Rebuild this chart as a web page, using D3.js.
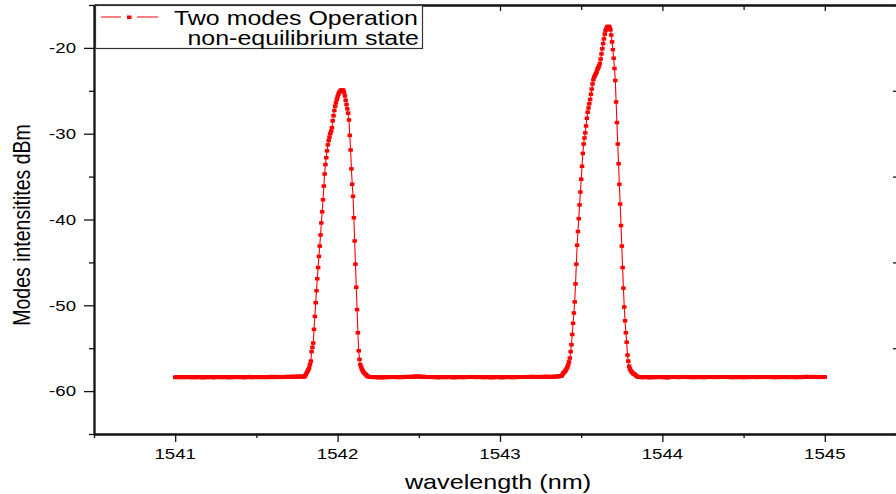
<!DOCTYPE html>
<html>
<head>
<meta charset="utf-8">
<script src="https://cdn.jsdelivr.net/npm/d3@7"></script>
<style>
  html, body { margin: 0; padding: 0; background: #fff; }
  svg { display: block; }
</style>
</head>
<body>
<script>
// Optical spectrum scan: uniform wavelength grid
const scanStartNm = 1541;
const scanStepNm = 0.005;

// Noise floor, 1541.000 .. 1541.790 nm
const floorLeft = [
  -58.38,-58.41,-58.36,-58.33,-58.39,-58.42,-58.37,-58.35,-58.40,-58.38,
  -58.34,-58.37,-58.42,-58.39,-58.36,-58.33,-58.38,-58.41,-58.37,-58.35,
  -58.39,-58.43,-58.38,-58.34,-58.36,-58.40,-58.42,-58.37,-58.33,-58.36,
  -58.41,-58.38,-58.35,-58.39,-58.44,-58.40,-58.36,-58.34,-58.38,-58.42,
  -58.39,-58.35,-58.33,-58.37,-58.41,-58.38,-58.36,-58.40,-58.43,-58.39,
  -58.35,-58.32,-58.36,-58.40,-58.37,-58.34,-58.38,-58.42,-58.39,-58.36,
  -58.33,-58.37,-58.41,-58.38,-58.35,-58.39,-58.43,-58.40,-58.36,-58.34,
  -58.38,-58.42,-58.39,-58.35,-58.32,-58.36,-58.40,-58.37,-58.34,-58.38,
  -58.41,-58.37,-58.33,-58.36,-58.40,-58.43,-58.39,-58.35,-58.37,-58.41,
  -58.38,-58.34,-58.31,-58.35,-58.39,-58.42,-58.38,-58.35,-58.33,-58.37,
  -58.40,-58.36,-58.33,-58.37,-58.41,-58.38,-58.34,-58.32,-58.36,-58.39,
  -58.42,-58.38,-58.35,-58.33,-58.37,-58.40,-58.36,-58.33,-58.30,-58.34,
  -58.38,-58.41,-58.37,-58.34,-58.31,-58.35,-58.39,-58.36,-58.33,-58.37,
  -58.40,-58.36,-58.32,-58.35,-58.38,-58.34,-58.31,-58.33,-58.36,-58.32,
  -58.29,-58.33,-58.36,-58.32,-58.30,-58.34,-58.31,-58.28,-58.32,-58.35,
  -58.31,-58.28,-58.30,-58.33,-58.29,-58.27,-58.31,-58.34,-58.30
];

// First lasing mode, 1541.795 .. 1542.185 nm
const modeShort = [
  -58.35,-58.20,-58.05,-57.85,-57.70,-57.50,-57.30,-56.90,-56.50,-55.40,
  -54.90,-54.40,-52.80,-51.30,-49.70,-48.30,-46.90,-45.60,-44.30,-43.10,
  -41.80,-40.40,-39.10,-37.70,-36.10,-34.70,-33.60,-32.80,-32.00,-31.30,
  -30.80,-30.40,-30.00,-29.70,-29.30,-28.50,-27.90,-27.30,-26.80,-26.40,
  -26.00,-25.70,-25.40,-25.20,-25.05,-24.95,-24.90,-24.90,-24.95,-25.20,
  -25.60,-26.10,-26.60,-27.10,-27.60,-28.40,-30.20,-31.90,-34.10,-35.90,
  -37.30,-39.80,-42.50,-45.20,-47.90,-50.50,-53.20,-55.30,-56.30,-56.90,
  -57.20,-57.45,-57.65,-57.80,-57.90,-58.00,-58.10,-58.20,-58.30
];

// Noise floor between the modes, 1542.190 .. 1543.375 nm
const floorMiddle = [
  -58.30,-58.33,-58.36,-58.34,-58.37,-58.40,-58.38,-58.35,-58.39,-58.42,
  -58.39,-58.36,-58.40,-58.43,-58.40,-58.37,-58.41,-58.44,-58.40,-58.37,
  -58.39,-58.42,-58.38,-58.35,-58.38,-58.41,-58.37,-58.34,-58.36,-58.39,
  -58.36,-58.33,-58.37,-58.40,-58.38,-58.35,-58.38,-58.42,-58.39,-58.36,
  -58.34,-58.37,-58.41,-58.38,-58.34,-58.31,-58.35,-58.38,-58.36,-58.33,
  -58.30,-58.33,-58.36,-58.32,-58.29,-58.31,-58.34,-58.30,-58.27,-58.30,
  -58.33,-58.30,-58.27,-58.29,-58.32,-58.35,-58.32,-58.29,-58.31,-58.34,
  -58.37,-58.34,-58.36,-58.39,-58.36,-58.33,-58.37,-58.40,-58.38,-58.35,
  -58.38,-58.41,-58.38,-58.35,-58.37,-58.40,-58.43,-58.39,-58.36,-58.38,
  -58.41,-58.38,-58.35,-58.38,-58.42,-58.39,-58.36,-58.33,-58.36,-58.40,
  -58.37,-58.34,-58.37,-58.40,-58.43,-58.40,-58.37,-58.39,-58.42,-58.38,
  -58.35,-58.38,-58.41,-58.37,-58.34,-58.36,-58.39,-58.42,-58.39,-58.36,
  -58.34,-58.37,-58.40,-58.37,-58.34,-58.32,-58.35,-58.38,-58.35,-58.32,
  -58.35,-58.38,-58.41,-58.38,-58.35,-58.37,-58.40,-58.36,-58.33,-58.36,
  -58.39,-58.42,-58.39,-58.36,-58.38,-58.41,-58.38,-58.35,-58.37,-58.40,
  -58.43,-58.40,-58.37,-58.39,-58.42,-58.39,-58.36,-58.38,-58.41,-58.38,
  -58.35,-58.37,-58.40,-58.43,-58.40,-58.37,-58.39,-58.42,-58.38,-58.35,
  -58.37,-58.40,-58.37,-58.34,-58.36,-58.39,-58.42,-58.39,-58.36,-58.38,
  -58.41,-58.38,-58.35,-58.37,-58.40,-58.37,-58.34,-58.36,-58.39,-58.36,
  -58.33,-58.35,-58.38,-58.35,-58.32,-58.34,-58.37,-58.34,-58.31,-58.33,
  -58.36,-58.33,-58.30,-58.32,-58.35,-58.38,-58.35,-58.32,-58.34,-58.37,
  -58.34,-58.31,-58.33,-58.36,-58.33,-58.30,-58.32,-58.35,-58.32,-58.29,
  -58.31,-58.34,-58.37,-58.33,-58.30,-58.32,-58.35,-58.32,-58.29,-58.31,
  -58.33,-58.30,-58.27,-58.29,-58.31,-58.28,-58.25,-58.27
];

// Second lasing mode, 1543.380 .. 1543.845 nm
const modeLong = [
  -58.20,-58.05,-57.90,-57.80,-57.70,-57.55,-57.40,-57.20,-56.95,-56.60,
  -56.15,-55.40,-54.60,-53.40,-52.10,-50.90,-49.60,-47.50,-45.20,-43.00,
  -41.40,-39.90,-38.30,-36.80,-35.30,-33.80,-32.30,-31.20,-30.50,-29.90,
  -29.10,-28.20,-27.50,-27.00,-26.50,-26.00,-25.40,-24.80,-24.20,-23.70,
  -23.40,-23.20,-23.00,-22.80,-22.50,-22.30,-22.10,-21.80,-21.30,-20.70,
  -20.10,-19.50,-18.95,-18.40,-18.00,-17.75,-17.55,-17.50,-17.50,-17.60,
  -17.90,-18.50,-19.30,-20.20,-21.20,-22.40,-23.80,-26.30,-28.70,-31.20,
  -33.50,-35.90,-38.20,-40.70,-43.10,-45.60,-48.00,-50.20,-51.80,-53.20,
  -54.30,-55.80,-56.50,-57.10,-57.40,-57.60,-57.75,-57.85,-57.95,-58.00,
  -58.05,-58.15,-58.25,-58.30
];

// Noise floor, 1543.850 .. 1545.000 nm
const floorRight = [
  -58.32,-58.35,-58.38,-58.36,-58.39,-58.42,-58.39,-58.36,-58.38,-58.41,
  -58.38,-58.35,-58.37,-58.40,-58.43,-58.40,-58.37,-58.39,-58.42,-58.39,
  -58.36,-58.38,-58.41,-58.38,-58.35,-58.37,-58.40,-58.37,-58.34,-58.36,
  -58.39,-58.42,-58.39,-58.36,-58.38,-58.41,-58.44,-58.41,-58.38,-58.40,
  -58.37,-58.34,-58.36,-58.39,-58.36,-58.33,-58.35,-58.38,-58.41,-58.38,
  -58.35,-58.37,-58.40,-58.37,-58.34,-58.32,-58.35,-58.38,-58.35,-58.32,
  -58.34,-58.37,-58.40,-58.37,-58.34,-58.36,-58.39,-58.42,-58.39,-58.36,
  -58.38,-58.41,-58.38,-58.35,-58.37,-58.40,-58.37,-58.34,-58.36,-58.39,
  -58.42,-58.39,-58.36,-58.38,-58.41,-58.38,-58.35,-58.33,-58.36,-58.39,
  -58.36,-58.33,-58.35,-58.38,-58.41,-58.38,-58.35,-58.37,-58.40,-58.37,
  -58.34,-58.36,-58.39,-58.36,-58.33,-58.35,-58.38,-58.35,-58.32,-58.34,
  -58.37,-58.40,-58.37,-58.34,-58.36,-58.39,-58.42,-58.39,-58.36,-58.38,
  -58.41,-58.38,-58.35,-58.37,-58.40,-58.37,-58.34,-58.36,-58.39,-58.42,
  -58.39,-58.36,-58.38,-58.41,-58.38,-58.35,-58.37,-58.40,-58.37,-58.34,
  -58.36,-58.39,-58.36,-58.33,-58.35,-58.38,-58.41,-58.38,-58.35,-58.37,
  -58.40,-58.37,-58.34,-58.36,-58.39,-58.36,-58.33,-58.35,-58.38,-58.35,
  -58.32,-58.34,-58.37,-58.40,-58.37,-58.34,-58.36,-58.39,-58.42,-58.39,
  -58.36,-58.38,-58.41,-58.38,-58.35,-58.37,-58.40,-58.37,-58.34,-58.36,
  -58.39,-58.36,-58.33,-58.35,-58.38,-58.41,-58.38,-58.35,-58.37,-58.40,
  -58.37,-58.34,-58.36,-58.39,-58.42,-58.39,-58.36,-58.38,-58.41,-58.38,
  -58.35,-58.37,-58.40,-58.37,-58.34,-58.36,-58.33,-58.30,-58.32,-58.35,
  -58.38,-58.35,-58.32,-58.34,-58.37,-58.34,-58.31,-58.33,-58.36,-58.39,
  -58.36,-58.33,-58.35,-58.38,-58.35,-58.32,-58.34,-58.37,-58.40,-58.37,
  -58.35
];

const xTickValues = [1541, 1542, 1543, 1544, 1545];
const xMinorValues = [1540.5, 1541.5, 1542.5, 1543.5, 1544.5, 1545.5];
const yTickValues = [-60, -50, -40, -30, -20];
const yMinorValues = [-65, -55, -45, -35, -25, -15];
const legendLabels = ["Two modes Operation", "non-equilibrium state"];
const xTitle = "wavelength (nm)";
const yTitle = "Modes intensitites dBm";

const W = 896, H = 494;
const FONT = "'Liberation Sans', Arial, Helvetica, sans-serif";
const STRETCH = 1.26;   // glyphs are drawn wide
const RED = "#ff0000";

const powerDbm = [].concat(floorLeft, modeShort, floorMiddle, modeLong, floorRight);
const spectrum = powerDbm.map((p, i) => ({ nm: scanStartNm + i * scanStepNm, dbm: p }));

const x = d3.scaleLinear().domain([1540.5, 1545.5]).range([94, 906]);
const y = d3.scaleLinear().domain([-65, -15]).range([434, 5]);

const svg = d3.select("body").append("svg")
  .attr("width", W).attr("height", H)
  .style("font-family", FONT);

svg.append("rect").attr("width", W).attr("height", H).attr("fill", "#fff");

// Trace: thin line through every sample, square symbol on each
const plot = svg.append("g");
plot.append("path")
  .datum(spectrum)
  .attr("fill", "none")
  .attr("stroke", RED)
  .attr("stroke-width", 1.1)
  .attr("d", d3.line().x(d => x(d.nm)).y(d => y(d.dbm)));

plot.selectAll("rect.sym")
  .data(spectrum)
  .join("rect")
  .attr("class", "sym")
  .attr("x", d => x(d.nm) - 2.25)
  .attr("y", d => y(d.dbm) - 1.75)
  .attr("width", 4.5)
  .attr("height", 3.5)
  .attr("fill", RED);

// Frame and axes
const axisColor = "#111";
function styleAxis(g, width) {
  g.select(".domain").attr("stroke", axisColor).attr("stroke-width", width);
  g.selectAll(".tick line").attr("stroke", axisColor).attr("stroke-width", 1.3);
  g.selectAll(".tick text").remove();
}

// bottom
svg.append("g").attr("transform", `translate(0,${y(-65)})`)
  .call(d3.axisBottom(x).tickValues(xTickValues).tickSize(8).tickSizeOuter(0))
  .call(g => styleAxis(g, 1.8));
svg.append("g").attr("transform", `translate(0,${y(-65)})`)
  .call(d3.axisBottom(x).tickValues(xMinorValues).tickSize(4).tickSizeOuter(0).tickFormat(""))
  .call(g => styleAxis(g, 1.8));

// top (ticks inward)
svg.append("g").attr("transform", `translate(0,${y(-15)})`)
  .call(d3.axisBottom(x).tickValues(xTickValues).tickSize(6).tickSizeOuter(0))
  .call(g => styleAxis(g, 1.8));
svg.append("g").attr("transform", `translate(0,${y(-15)})`)
  .call(d3.axisBottom(x).tickValues(xMinorValues).tickSize(5).tickSizeOuter(0).tickFormat(""))
  .call(g => styleAxis(g, 1.8));

// left
svg.append("g").attr("transform", `translate(${x(1540.5)},0)`)
  .call(d3.axisLeft(y).tickValues(yTickValues).tickSize(10).tickSizeOuter(0))
  .call(g => styleAxis(g, 1.8));
svg.append("g").attr("transform", `translate(${x(1540.5)},0)`)
  .call(d3.axisLeft(y).tickValues(yMinorValues).tickSize(5).tickSizeOuter(0).tickFormat(""))
  .call(g => styleAxis(g, 1.8));

// right (minor ticks inward)
svg.append("g").attr("transform", `translate(${x(1545.5)},0)`)
  .call(d3.axisLeft(y).tickValues(yMinorValues).tickSize(13).tickSizeOuter(0).tickFormat(""))
  .call(g => styleAxis(g, 1.8));

// Stretched text helper
function label(parent, px, py, str, size, anchor, rotate) {
  const g = parent.append("g")
    .attr("transform", `translate(${px},${py}) scale(${STRETCH},1)` + (rotate ? ` rotate(${rotate})` : ""));
  g.append("text")
    .attr("text-anchor", anchor)
    .attr("font-size", size)
    .attr("fill", "#000")
    .text(str);
  return g;
}

// Tick labels
xTickValues.forEach(v => label(svg, x(v), 459, String(v), 14.8, "middle"));
yTickValues.forEach(v => label(svg, 76, y(v) + 5.2, String(v), 14.8, "end"));

// Axis titles
label(svg, 498, 489, xTitle, 20, "middle");
label(svg, 30, 225, yTitle, 19.5, "middle", -90);

// Legend
const legend = svg.append("g");
legend.append("rect")
  .attr("x", 95.5).attr("y", 5.5).attr("width", 327).attr("height", 43)
  .attr("fill", "#fff").attr("stroke", "#333").attr("stroke-width", 1.2);
legend.append("line").attr("x1", 101).attr("x2", 121).attr("y1", 17).attr("y2", 17)
  .attr("stroke", RED).attr("stroke-width", 1);
legend.append("line").attr("x1", 137).attr("x2", 158).attr("y1", 17).attr("y2", 17)
  .attr("stroke", RED).attr("stroke-width", 1);
legend.append("rect").attr("x", 127).attr("y", 15.5).attr("width", 4.5).attr("height", 3.5)
  .attr("fill", RED);
label(legend, 174, 25, legendLabels[0], 19.8, "start");
label(legend, 419, 45, legendLabels[1], 19.8, "end");
</script>
</body>
</html>
